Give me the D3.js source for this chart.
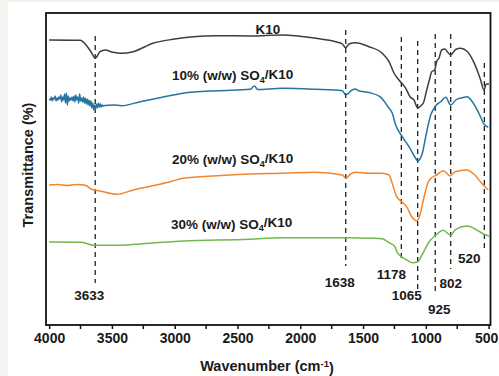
<!DOCTYPE html>
<html>
<head>
<meta charset="utf-8">
<script src="https://cdn.jsdelivr.net/npm/d3@7"></script>
<style>
  html, body { margin: 0; padding: 0; background: #f3f3ef; }
  svg { display: block; }
  text { font-family: "Liberation Sans", Arial, sans-serif; font-weight: bold; fill: #1a1a1a; }
</style>
</head>
<body>
<div id="chart"></div>
<script>
// spectra: [wavenumber (cm-1), transmittance (arb. units, offset stacked)]
const k10 = [
  [4000, 285], [3754, 284.7], [3701, 279.3], [3661, 272], [3633, 266.7], [3595, 273.3],
  [3555, 275], [3491, 272.7], [3422, 271.7], [3330, 273.3], [3173, 281.7], [3014, 285.7],
  [2854, 288.3], [2666, 289.3], [2400, 289], [2146, 290], [1877, 286.7], [1718, 283.3],
  [1665, 281], [1638, 277.3], [1612, 281], [1559, 282.3], [1453, 278.3], [1347, 271.7],
  [1293, 263.3], [1254, 252], [1214, 245], [1160, 236.7], [1126, 228.3], [1094, 225],
  [1065, 217], [1033, 220], [1020, 222], [993, 235], [972, 245], [953, 253.3], [930, 255],
  [914, 263.3], [895, 267], [874, 275], [847, 276], [829, 273.3], [802, 270], [762, 275.5],
  [725, 276.7], [670, 273.5], [620, 263.3], [566, 246], [537, 235], [519, 241], [497, 241]
];

const so4_10 = [
  [4000, 226], [3990, 225], [3982, 228], [3975, 224], [3968, 227], [3960, 226], [3952, 229],
  [3945, 224], [3938, 227], [3930, 225], [3922, 228], [3915, 226], [3907, 230], [3900, 223],
  [3892, 228], [3885, 225], [3877, 231], [3870, 222], [3862, 232], [3855, 220], [3847, 229],
  [3840, 224], [3832, 227], [3825, 225], [3817, 228], [3810, 224], [3802, 229], [3795, 223],
  [3787, 230], [3780, 225], [3772, 228], [3765, 222], [3757, 231], [3750, 224], [3742, 227],
  [3735, 223], [3727, 228], [3720, 222], [3712, 227], [3705, 221], [3697, 226], [3690, 220],
  [3682, 225], [3675, 219], [3667, 224], [3660, 217], [3652, 222], [3645, 215], [3637, 220],
  [3630, 216], [3622, 221], [3615, 217], [3607, 222], [3600, 218], [3592, 221], [3585, 218],
  [3577, 220], [3570, 219], [3555, 219.5], [3491, 220], [3422, 219.3], [3276, 223.3],
  [3117, 227.3], [2934, 231.7], [2666, 234.3], [2400, 235.7], [2365, 239], [2340, 235.5],
  [2146, 236.7], [1877, 235.7], [1665, 234.3], [1638, 230], [1588, 235], [1559, 236],
  [1540, 234.5], [1453, 232.5], [1365, 228.3], [1300, 218], [1267, 211.7], [1240, 200],
  [1188, 188.3], [1134, 178.3], [1081, 166.7], [1065, 164], [1028, 171.7], [1001, 188.3],
  [961, 210], [922, 219], [882, 223.3], [842, 227.7], [802, 220], [762, 225], [710, 227.3],
  [670, 228.3], [630, 223.3], [577, 211.7], [537, 201], [503, 197.7]
];

const so4_20 = [
  [4000, 140], [3930, 140.5], [3860, 139.5], [3780, 140.5], [3720, 140], [3701, 139],
  [3661, 135.7], [3595, 134], [3462, 130.7], [3330, 135], [3223, 138], [3037, 143.3],
  [2934, 146.7], [2666, 149.3], [2400, 151], [2146, 151.7], [1877, 152.7], [1665, 150],
  [1638, 146.7], [1600, 151], [1559, 152.7], [1453, 151.7], [1347, 151.7], [1293, 150],
  [1272, 143.3], [1232, 128.3], [1193, 123.3], [1153, 118.3], [1113, 108.3], [1073, 104.3],
  [1047, 110], [1020, 125], [980, 143.3], [953, 147.3], [914, 150], [861, 154.3], [807, 149],
  [767, 153.3], [675, 155], [609, 150], [555, 141.7], [529, 138.3], [503, 135]
];

const so4_30 = [
  [4000, 83], [3740, 82.7], [3648, 79.7], [3462, 79.7], [3197, 81.7], [2934, 84],
  [2400, 85.7], [2150, 87.3], [1660, 87.3], [1638, 86.5], [1620, 87.3], [1445, 86.8],
  [1347, 86.3], [1293, 82.3], [1246, 78.3], [1227, 72.3], [1160, 65.7], [1108, 62.3],
  [1068, 63], [1028, 70.7], [975, 83], [922, 89.7], [861, 94.7], [802, 89.7], [762, 95.7],
  [670, 99], [603, 95.7], [537, 90.7], [497, 89]
];

const seriesNames = ['K10', '10% (w/w) SO', '20% (w/w) SO', '30% (w/w) SO'];
const seriesColors = ['#3d3d3d', '#26749f', '#f0862f', '#70b84c'];

// marked bands: drawn position, label, dashed line top / bottom (arb. units)
const peakLabels = ['3633', '1638', '1178', '1065', '925', '802', '520'];
const peakAt = [3633, 1638, 1195, 1065, 925, 802, 534];
const peakTop = [289, 295, 288, 284, 291, 291, 262];
const peakBottom = [42, 59, 64, 36, 31, 56, 77];

const xTicks = [4000, 3500, 3000, 2500, 2000, 1500, 1000, 500];
const xMinor = [3750, 3250, 2750, 2250, 1750, 1250, 750];

const W = 499, H = 376;
const margin = { top: 13, right: 8.5, bottom: 51, left: 46 };
const width = W - margin.left - margin.right;
const height = H - margin.top - margin.bottom;

const svg = d3.select('#chart').append('svg')
  .attr('width', W).attr('height', H);

// page background strip like the source scan
svg.append('rect').attr('x', 0).attr('y', 0).attr('width', W).attr('height', H).attr('fill', '#f3f3ef');
svg.append('rect').attr('x', 8).attr('y', 2).attr('width', W - 8).attr('height', H - 2).attr('fill', '#ffffff');

const x = d3.scaleLinear().domain([4025, 485]).range([0, width]);
const y = d3.scaleLinear().domain([0, 312]).range([height, 0]);

const g = svg.append('g').attr('transform', `translate(${margin.left},${margin.top})`);

// dashed band markers
const labelDx = [-6, -6, -10, -11, 4, 0, -15];
const labelDy = [12, 16, 13, 6, 15, 14, 10];
peakAt.forEach((w, i) => {
  g.append('line')
    .attr('x1', x(w)).attr('x2', x(w))
    .attr('y1', y(peakTop[i])).attr('y2', y(peakBottom[i]))
    .attr('stroke', '#222').attr('stroke-width', 1.3)
    .attr('stroke-dasharray', '5,4');
  g.append('text')
    .attr('x', x(w) + labelDx[i])
    .attr('y', y(peakBottom[i]) + labelDy[i])
    .attr('dy', '0.36em')
    .attr('text-anchor', 'middle')
    .style('font-size', '13.5px')
    .text(peakLabels[i]);
});

// spectra
const line = d3.line()
  .x(d => x(d[0]))
  .y(d => y(d[1]))
  .curve(d3.curveMonotoneX);

[k10, so4_10, so4_20, so4_30].forEach((s, i) => {
  g.append('path')
    .datum(s)
    .attr('fill', 'none')
    .attr('stroke', seriesColors[i])
    .attr('stroke-width', 1.5)
    .attr('d', line);
});

// series labels
const nameX = [222, 126, 126, 125];
const nameY = [16, 62, 146, 210.7];
seriesNames.forEach((n, i) => {
  const t = g.append('text')
    .attr('x', nameX[i]).attr('y', nameY[i])
    .attr('dy', '0.36em')
    .style('font-size', '13.5px');
  if (i === 0) {
    t.attr('text-anchor', 'middle').text(n);
  } else {
    t.append('tspan').text(n);
    t.append('tspan').attr('dy', '0.3em').style('font-size', '9px').text('4');
    t.append('tspan').attr('dy', '-0.3em').text('/K10');
  }
});

// x axis
const xAxis = g.append('g')
  .attr('transform', `translate(0,${height})`)
  .call(d3.axisBottom(x).tickValues(xTicks).tickSize(4).tickSizeOuter(0).tickPadding(4).tickFormat(d3.format('d')));
xAxis.select('.domain').remove();
xAxis.selectAll('.tick line').attr('stroke', '#111').attr('stroke-width', 1.5);
xAxis.selectAll('.tick text')
  .style('font-family', '"Liberation Sans", Arial, sans-serif')
  .style('font-weight', 'bold')
  .style('font-size', '14px')
  .attr('fill', '#1a1a1a')
  .attr('dx', d => d === 500 ? -2.5 : 0);

g.append('g')
  .attr('transform', `translate(0,${height})`)
  .selectAll('line')
  .data(xMinor)
  .enter().append('line')
  .attr('x1', d => x(d)).attr('x2', d => x(d))
  .attr('y1', 0).attr('y2', 4)
  .attr('stroke', '#111').attr('stroke-width', 1.5);

// frame
g.append('rect')
  .attr('x', 0).attr('y', 0)
  .attr('width', width).attr('height', height)
  .attr('fill', 'none')
  .attr('stroke', '#111')
  .attr('stroke-width', 1.8);

// axis titles
const xt = svg.append('text')
  .attr('x', 267).attr('y', 371)
  .attr('text-anchor', 'middle')
  .style('font-size', '14.5px');
xt.append('tspan').text('Wavenumber (cm');
xt.append('tspan').attr('dy', '-0.45em').style('font-size', '9.5px').text('-1');
xt.append('tspan').attr('dy', '0.45em').text(')');

svg.append('text')
  .attr('transform', 'translate(28,165) rotate(-90)')
  .attr('text-anchor', 'middle')
  .attr('dy', '0.36em')
  .style('font-size', '14.5px')
  .text('Transmittance (%)');
</script>
</body>
</html>
